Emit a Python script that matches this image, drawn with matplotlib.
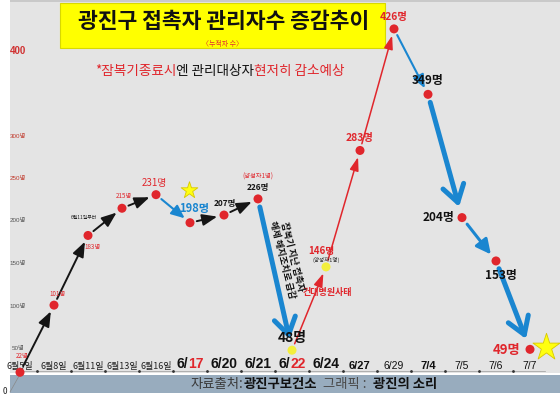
import matplotlib
matplotlib.use('Agg')
import matplotlib.pyplot as plt
from matplotlib.patches import Rectangle
from matplotlib.offsetbox import TextArea, HPacker, AnnotationBbox
from matplotlib import transforms
from matplotlib import font_manager as fm

KR = ['Noto Sans CJK KR', 'DejaVu Sans']
plt.rcParams['font.family'] = KR


def has_font(name):
    try:
        fm.findfont(fm.FontProperties(family=name), fallback_to_default=False)
        return True
    except Exception:
        return False


NARROW = ['Liberation Sans Narrow'] if has_font('Liberation Sans Narrow') else ['Liberation Sans']
NARROW = NARROW + KR

# ---------------- data ----------------
dates = ['6월5일', '6월8일', '6월11일', '6월13일', '6월16일', '6/17', '6/20', '6/21',
         '6/22', '6/24', '6/27', '6/29', '7/4', '7/5', '7/6', '7/7']
counts = [22, 101, 183, 215, 231, 198, 207, 226, 48, 146, 283, 426, 349, 204, 153, 49]
point_labels = [f'{c}명' for c in counts]
ytick_values = [50, 100, 150, 200, 250, 300, 400]
ytick_labels = ['50명', '100명', '150명', '200명', '250명', '300명', '400']
title = '광진구 접촉자 관리자수 증감추이'
subtitle = '〈누적자 수〉'
note_parts = ['*잠복기종료시', '엔 관리대상자', '현저히 감소예상']
source_parts = ['자료출처:', '광진구보건소', '  그래픽 :  ', '광진의 소리']
rotated_note = '잠복기 지난 접촉자\n해제 해지조치로 급감'
event_note = '건대병원사태'
positive_note = '(양성자1명)'
start_note = '6월11일부터'

# ---------------- figure ----------------
W, H = 560, 398
Y0, K = 391, 0.85          # value 0 at pixel row Y0, K pixels per unit
fig = plt.figure(figsize=(W / 100, H / 100), dpi=100)
fig.patch.set_facecolor('white')
ax = fig.add_axes([0, 0, 1, 1])
ax.axis('off')
ax.set_xlim(-20 / 34, (W - 20) / 34)
ax.set_ylim(-(H - Y0) / K, Y0 / K)
XLAB_Y = (Y0 - 371) / K


def fx(x):
    return x / W


def fy(y):
    return 1 - y / H


def rect(x, y, w, h, **kw):
    r = Rectangle((fx(x), fy(y + h)), w / W, h / H, transform=fig.transFigure,
                  clip_on=False, **kw)
    ax.add_patch(r)
    return r


def ptext(x, y, s, **kw):
    return ax.text(fx(x), fy(y), s, transform=fig.transFigure, **kw)


def multitext(xy, parts, coords, align=(0.5, 0.5), zorder=6):
    areas = [TextArea(t, textprops=p) for t, p in parts]
    box = HPacker(children=areas, align='baseline', pad=0, sep=0)
    ab = AnnotationBbox(box, xy, xycoords=coords, frameon=False, pad=0,
                        box_alignment=align, zorder=zorder)
    ax.add_artist(ab)
    return ab


# backgrounds
rect(10, 0, 550, 373, facecolor='#e4e4e4', edgecolor='none', zorder=-5)
rect(10, 0, 550, 2, facecolor='#c9c9c9', edgecolor='none', zorder=-4)
rect(10, 375, 550, 18, facecolor='#98acbe', edgecolor='none', zorder=-5)

# title box
rect(60, 3, 325, 45, facecolor='#ffff00', edgecolor='#d8d800', lw=0.8, zorder=2)
ptext(224, 22, title, fontsize=15.5, fontweight='bold', color='#111111',
      ha='center', va='center', zorder=3)
ptext(222, 44, subtitle, fontsize=5, color='#e03030', ha='center', va='center', zorder=3)

# note line
red = '#e0262c'
multitext((fx(220), fy(71)), [
    (note_parts[0], dict(color=red, fontsize=9.8)),
    (note_parts[1], dict(color='#111111', fontsize=9.8)),
    (note_parts[2], dict(color=red, fontsize=9.8)),
], 'figure fraction')

# source band
multitext((fx(314), fy(384)), [
    (source_parts[0], dict(color='#3a3a3a', fontsize=9.6)),
    (source_parts[1], dict(color='#111111', fontsize=9.6, fontweight='bold')),
    (source_parts[2], dict(color='#4a4a4a', fontsize=9.6)),
    (source_parts[3], dict(color='#111111', fontsize=9.6, fontweight='bold')),
], 'figure fraction')

# y-axis labels
ytick_colors = ['#555555', '#555555', '#555555', '#555555', '#c0392b', '#c0392b', '#d03030']
x_ylab = ax.get_xlim()[0] + fx(18) * (ax.get_xlim()[1] - ax.get_xlim()[0])
for v, lab, col in zip(ytick_values, ytick_labels, ytick_colors):
    big = lab == '400'
    ax.text(x_ylab, v, lab,
            fontsize=7 if big else 4.5, fontweight='bold' if big else 'normal',
            color=col, ha='center', va='center', family=NARROW)
ptext(5, 392, '0', fontsize=6, color='#222222', ha='center', va='center')
ax.plot([fx(10), fx(19)], [fy(392), fy(376)], transform=fig.transFigure,
        color='#888888', lw=0.5, clip_on=False)

# baseline under date labels
ax.plot([fx(20), fx(545)], [fy(371), fy(371)], transform=fig.transFigure,
        color='#9a9a9a', lw=0.5, clip_on=False, zorder=1)

# ---------------- arrows ----------------
xs = list(range(len(counts)))
blue = '#1a86d0'
styles = {
    'k': dict(arrowstyle='-|>,head_length=0.9,head_width=0.35', color='#151515', lw=1.4,
              mutation_scale=10, shrinkA=5, shrinkB=5),
    'b1': dict(arrowstyle='-|>,head_length=0.8,head_width=0.35', color=blue, lw=1.5,
               mutation_scale=10, shrinkA=5, shrinkB=5),
    'b2': dict(arrowstyle='-|>,head_length=0.8,head_width=0.4', color=blue, lw=2.2,
               mutation_scale=11, shrinkA=6, shrinkB=6),
    'B': dict(arrowstyle='->,head_length=0.55,head_width=0.35', color=blue, lw=3.6,
              mutation_scale=22, shrinkA=6, shrinkB=8),
    'r': dict(arrowstyle='-|>,head_length=0.9,head_width=0.3', color=red, lw=1.1,
              mutation_scale=9, shrinkA=5, shrinkB=5),
}
segment_styles = ['k', 'k', 'k', 'k', 'b1', 'k', 'k', 'B', 'r', 'r', 'r', 'b1', 'B', 'b2', 'B']
for i, st in enumerate(segment_styles):
    ax.annotate('', xy=(xs[i + 1], counts[i + 1]), xytext=(xs[i], counts[i]),
                arrowprops=styles[st], zorder=4)

# ---------------- points ----------------
point_colors = [red] * len(counts)
point_colors[8] = '#f3ee3c'
point_colors[9] = '#f3ee3c'
ax.scatter(xs, counts, s=42, c=point_colors, edgecolors='none', zorder=5)

# stars
for idx, dx, dy, size in [(5, -1, 33, 160), (15, 16, 2, 420)]:
    tr = transforms.offset_copy(ax.transData, fig=fig, x=dx, y=dy, units='dots')
    ax.scatter([xs[idx]], [counts[idx]], marker='*', s=size, c='#ffff10',
               edgecolors='#d8c800', linewidths=0.6, transform=tr, zorder=6)

# ---------------- point labels ----------------
label_style = [
    dict(off=(2, 16), color=red, size=4.5, weight='normal'),
    dict(off=(3, 11), color=red, size=4.5, weight='normal'),
    dict(off=(4, -12), color=red, size=4.5, weight='normal'),
    dict(off=(2, 12), color=red, size=4.5, weight='normal'),
    dict(off=(-2, 12), color=red, size=7, weight='normal'),
    dict(off=(4, 14), color=blue, size=8, weight='bold'),
    dict(off=(1, 12), color='#151515', size=6, weight='bold'),
    dict(off=(0, 11), color='#151515', size=6, weight='bold'),
    dict(off=(0, 12), color='#111111', size=10, weight='bold'),
    dict(off=(-5, 16), color=red, size=7, weight='bold'),
    dict(off=(0, 12), color=red, size=7.5, weight='bold'),
    dict(off=(0, 12), color=red, size=7.5, weight='bold'),
    dict(off=(0, 14), color='#111111', size=8.5, weight='bold'),
    dict(off=(-24, 0), color='#111111', size=8.5, weight='bold'),
    dict(off=(5, -15), color='#111111', size=8.5, weight='bold'),
    dict(off=(-23, -1), color=red, size=9.5, weight='bold'),
]
for i, (lab, st) in enumerate(zip(point_labels, label_style)):
    ax.annotate(lab, (xs[i], counts[i]), xytext=st['off'], textcoords='offset pixels',
                ha='center', va='center', color=st['color'], fontsize=st['size'],
                fontweight=st['weight'], zorder=7)

ax.annotate(positive_note, (xs[7], counts[7]), xytext=(0, 22), textcoords='offset pixels',
            ha='center', va='center', color=red, fontsize=4.5, zorder=7)
ax.annotate(positive_note, (xs[9], counts[9]), xytext=(0, 7), textcoords='offset pixels',
            ha='center', va='center', color='#222222', fontsize=4, zorder=7)
ax.annotate(event_note, (xs[9], counts[9]), xytext=(1, -26), textcoords='offset pixels',
            ha='center', va='center', color=red, fontsize=6.5, fontweight='bold', zorder=7)
ax.annotate(start_note, (xs[2], counts[2]), xytext=(-4, 18), textcoords='offset pixels',
            ha='center', va='center', color='#222222', fontsize=3.5, zorder=7)
ax.annotate(rotated_note, (xs[8], counts[8]), xytext=(-5, 92), textcoords='offset pixels',
            rotation=-76, rotation_mode='anchor', fontsize=6.6, fontweight='bold',
            color='#111111', ha='center', va='center', linespacing=1.1, zorder=7)

# ---------------- x labels ----------------
for i, d in enumerate(dates):
    if '월' in d:
        parts = [(d, dict(color='#222222', fontsize=6.5, family=KR))]
    elif i in (5, 8):
        a, b = d.split('/')
        parts = [(a + '/', dict(color='#111111', fontsize=10, fontweight='bold', family=NARROW)),
                 (b, dict(color=red, fontsize=10, fontweight='bold', family=NARROW))]
    elif i in (6, 7, 9):
        parts = [(d, dict(color='#111111', fontsize=10, fontweight='bold', family=NARROW))]
    elif i in (10, 12):
        parts = [(d, dict(color='#111111', fontsize=8, fontweight='bold', family=NARROW))]
    else:
        parts = [(d, dict(color='#111111', fontsize=7.5, family=NARROW))]
    multitext((xs[i], XLAB_Y), parts, 'data', align=(0.5, 0), zorder=3)
    if i > 0:
        ax.plot([xs[i] - 0.5], [XLAB_Y], marker='.', ms=2, color='#333333', zorder=3)

fig.savefig('out.png', dpi=100, facecolor='white')
